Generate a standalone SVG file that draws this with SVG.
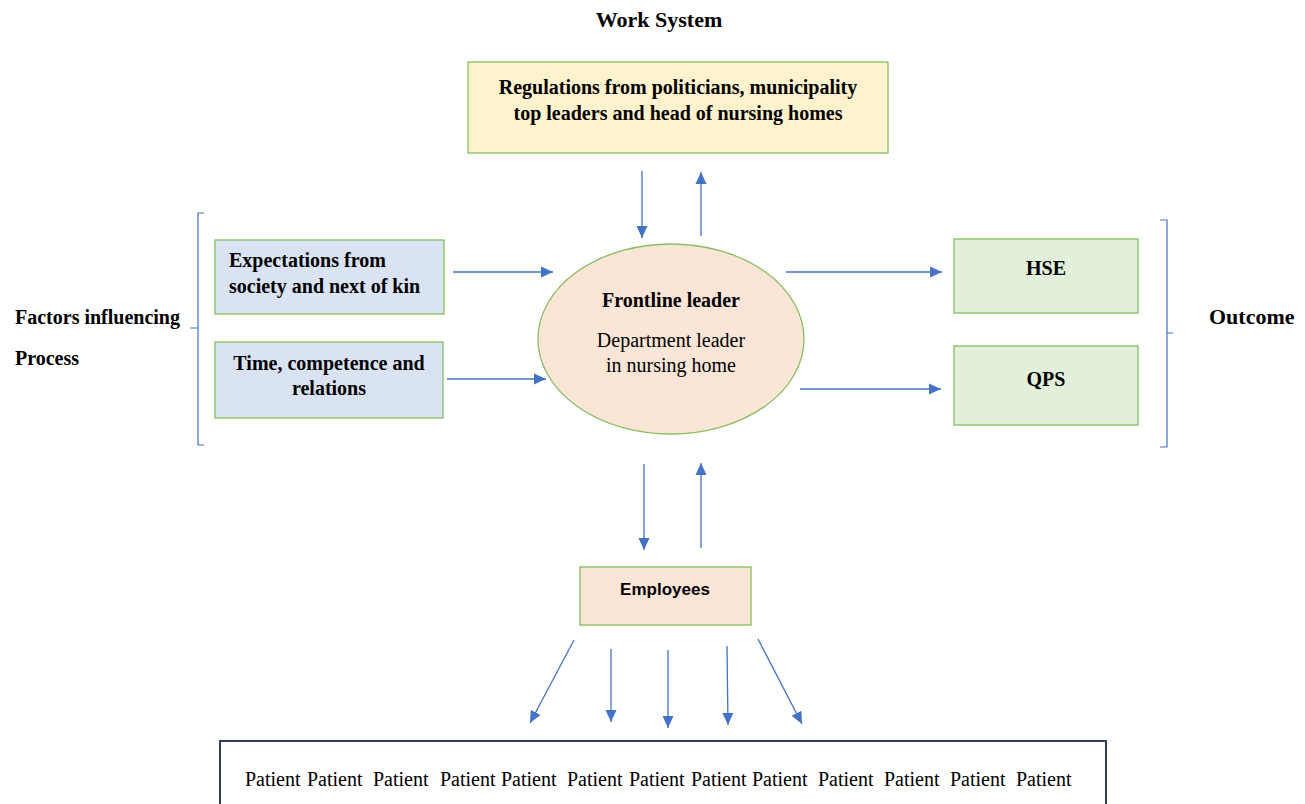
<svg xmlns="http://www.w3.org/2000/svg" width="1305" height="804" viewBox="0 0 1305 804">
<style>
.b{font-family:"Liberation Serif","Times New Roman",serif;font-weight:bold;font-size:20px;fill:#000}
.big{font-size:22px}
.r{font-family:"Liberation Serif","Times New Roman",serif;font-size:20px;fill:#000}
.s{font-family:"Liberation Sans",Arial,sans-serif;font-weight:bold;font-size:17px;fill:#000}
.box{stroke:#86BE60;stroke-width:1.3}
.c{stroke:#4472C4;stroke-width:1.3;fill:none}
.br{stroke:#4472C4;stroke-width:1.2;fill:none}
</style>
<defs>
<marker id="ah" markerUnits="userSpaceOnUse" markerWidth="13" markerHeight="13" viewBox="0 0 13 13" refX="12" refY="6.5" orient="auto">
<path d="M0,1 L12,6.5 L0,12 Z" fill="#4472C4"/>
</marker>
</defs>
<rect width="1305" height="804" fill="#fff"/>
<text class="b big" x="659" y="27" text-anchor="middle">Work System</text>
<text class="b" x="15" y="324">Factors influencing</text>
<text class="b" x="15" y="365">Process</text>
<text class="b big" x="1209" y="324">Outcome</text>
<path class="br" d="M204,213 H198 V445 H204 M198,328 H190"/>
<path class="br" d="M1160,220 H1167 V447 H1160 M1167,333 H1173"/>
<g id="regulations">
<rect class="box" x="468" y="62" width="420" height="91" fill="#FFF2CC"/>
<text class="b" x="678" y="94" text-anchor="middle">Regulations from politicians, municipality</text>
<text class="b" x="678" y="120" text-anchor="middle">top leaders and head of nursing homes</text>
</g>
<g id="expectations">
<rect class="box" x="215" y="240" width="229" height="74" fill="#DAE3F3"/>
<text class="b" x="229" y="267">Expectations from</text>
<text class="b" x="229" y="293">society and next of kin</text>
</g>
<g id="time">
<rect class="box" x="215" y="342" width="228" height="76" fill="#DAE3F3"/>
<text class="b" x="329" y="370" text-anchor="middle">Time, competence and</text>
<text class="b" x="329" y="395" text-anchor="middle">relations</text>
</g>
<g id="leader">
<ellipse class="box" cx="671" cy="339" rx="133" ry="95" fill="#FBE5D6"/>
<text class="b" x="671" y="307" text-anchor="middle">Frontline leader</text>
<text class="r" x="671" y="347" text-anchor="middle">Department leader</text>
<text class="r" x="671" y="372" text-anchor="middle">in nursing home</text>
</g>
<g id="hse">
<rect class="box" x="954" y="239" width="184" height="74" fill="#E2EFDA"/>
<text class="b" x="1046" y="275" text-anchor="middle">HSE</text>
</g>
<g id="qps">
<rect class="box" x="954" y="346" width="184" height="79" fill="#E2EFDA"/>
<text class="b" x="1046" y="386" text-anchor="middle">QPS</text>
</g>
<g id="employees">
<rect class="box" x="580" y="567" width="171" height="58" fill="#FBE5D6"/>
<text class="s" x="665" y="595" text-anchor="middle">Employees</text>
</g>
<g id="patients">
<rect x="220" y="741" width="886" height="70" fill="#fff" stroke="#2F3F5F" stroke-width="2"/>
<text class="r" y="786"><tspan x="245">Patient</tspan><tspan x="307">Patient</tspan><tspan x="373">Patient</tspan><tspan x="440">Patient</tspan><tspan x="501">Patient</tspan><tspan x="567">Patient</tspan><tspan x="629">Patient</tspan><tspan x="691">Patient</tspan><tspan x="752">Patient</tspan><tspan x="818">Patient</tspan><tspan x="884">Patient</tspan><tspan x="950">Patient</tspan><tspan x="1016">Patient</tspan></text>
</g>
<g id="connectors">
<line class="c" x1="642" y1="171" x2="642" y2="238" marker-end="url(#ah)"/>
<line class="c" x1="701" y1="236" x2="701" y2="172" marker-end="url(#ah)"/>
<line class="c" x1="453" y1="272" x2="553" y2="272" marker-end="url(#ah)"/>
<line class="c" x1="447" y1="379" x2="546" y2="379" marker-end="url(#ah)"/>
<line class="c" x1="786" y1="272" x2="942" y2="272" marker-end="url(#ah)"/>
<line class="c" x1="800" y1="389" x2="941" y2="389" marker-end="url(#ah)"/>
<line class="c" x1="644" y1="464" x2="644" y2="550" marker-end="url(#ah)"/>
<line class="c" x1="701" y1="548" x2="701" y2="463" marker-end="url(#ah)"/>
<line class="c" x1="574" y1="640" x2="530" y2="723" marker-end="url(#ah)"/>
<line class="c" x1="611" y1="649" x2="611" y2="722" marker-end="url(#ah)"/>
<line class="c" x1="668" y1="650" x2="668" y2="728" marker-end="url(#ah)"/>
<line class="c" x1="727" y1="646" x2="728" y2="725" marker-end="url(#ah)"/>
<line class="c" x1="758" y1="639" x2="802" y2="724" marker-end="url(#ah)"/>
</g>
</svg>
